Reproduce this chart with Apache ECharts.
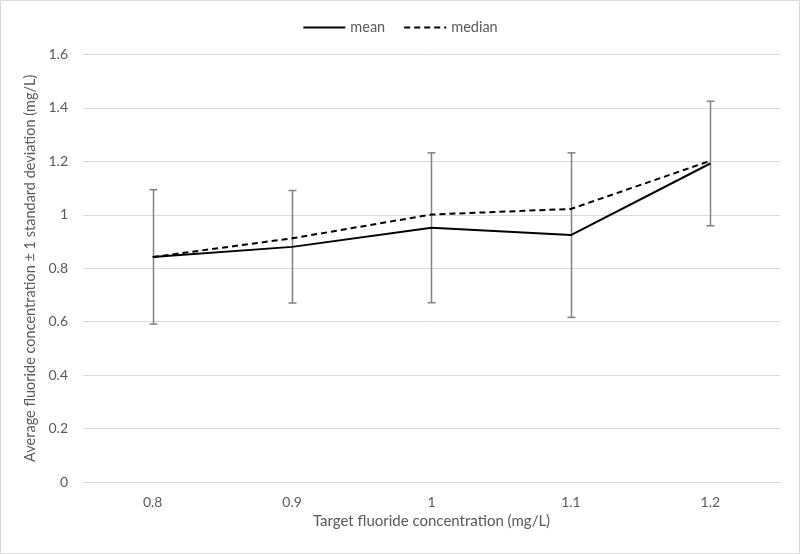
<!DOCTYPE html>
<html><head><meta charset="utf-8">
<script src="https://cdn.jsdelivr.net/npm/echarts@6/dist/echarts.min.js"></script>
<style>html,body{margin:0;padding:0;background:#fff}#c{width:800px;height:554px}</style>
</head><body><div id="c"></div>
<script>
var categories = ['0.8', '0.9', '1', '1.1', '1.2'];
var meanValues = [0.842, 0.880, 0.952, 0.924, 1.192];
var medianValues = [0.842, 0.912, 1.001, 1.022, 1.202];
var sdUpper = [1.094, 1.091, 1.232, 1.232, 1.425];
var sdLower = [0.591, 0.670, 0.671, 0.616, 0.959];
var yTicks = [0, 0.2, 0.4, 0.6, 0.8, 1, 1.2, 1.4, 1.6];

var FONT = 'Lato';
var errData = categories.map(function (c, i) { return [i, sdLower[i], sdUpper[i]]; });

var chart = echarts.init(document.getElementById('c'));
chart.setOption({
  animation: false,
  backgroundColor: '#fff',
  textStyle: { fontFamily: FONT },
  graphic: [{
    type: 'rect', silent: true, z: -1,
    shape: { x: 0.5, y: 0.5, width: 799, height: 553 },
    style: { fill: 'none', stroke: '#d9d9d9', lineWidth: 1 }
  }],
  legend: {
    top: 15, left: 'center',
    itemWidth: 42, itemHeight: 10, itemGap: 18,
    itemStyle: { opacity: 0 },
    textStyle: { color: '#595959', fontSize: 14.5, fontFamily: FONT },
    data: ['mean', 'median']
  },
  grid: { left: 83, right: 20, top: 54.5, bottom: 72, containLabel: false },
  xAxis: {
    type: 'category', data: categories, boundaryGap: true,
    name: 'Target fluoride concentration (mg/L)', nameLocation: 'middle', nameGap: 32,
    nameTextStyle: { color: '#595959', fontSize: 15, fontFamily: FONT, verticalAlign: 'top' },
    axisLine: { lineStyle: { color: '#d9d9d9' } },
    axisTick: { show: false },
    axisLabel: { color: '#595959', fontSize: 14, margin: 13, fontFamily: FONT }
  },
  yAxis: {
    type: 'value', min: 0, max: 1.6, interval: 0.2,
    name: 'Average fluoride concentration \u00b1 1 standard deviation (mg/L)',
    nameLocation: 'middle', nameGap: 43,
    nameTextStyle: { color: '#595959', fontSize: 14.5, fontFamily: FONT },
    axisLine: { show: false }, axisTick: { show: false },
    splitLine: { lineStyle: { color: '#d9d9d9', width: 1 } },
    axisLabel: {
      color: '#595959', fontSize: 14, margin: 15, fontFamily: FONT,
      formatter: function (v) {
        var t = yTicks.find(function (x) { return Math.abs(x - v) < 1e-9; });
        return t === undefined ? '' : String(t);
      }
    }
  },
  series: [
    {
      name: 'mean', type: 'line', data: meanValues, symbol: 'none', z: 3,
      lineStyle: { color: '#000', width: 2, type: 'solid' },
      itemStyle: { color: '#000' }
    },
    {
      name: 'median', type: 'line', data: medianValues, symbol: 'none', z: 3,
      lineStyle: { color: '#000', width: 2, type: [6, 4] },
      itemStyle: { color: '#000' }
    },
    {
      name: 'sd', type: 'custom', data: errData, z: 2,
      encode: { x: 0, y: [1, 2] },
      renderItem: function (params, api) {
        var lo = api.coord([api.value(0), api.value(1)]);
        var hi = api.coord([api.value(0), api.value(2)]);
        var x = Math.round(lo[0]) + 0.5;
        var s = { stroke: '#808080', lineWidth: 1.5 };
        return {
          type: 'group',
          children: [
            { type: 'line', shape: { x1: x, y1: hi[1], x2: x, y2: lo[1] }, style: s },
            { type: 'line', shape: { x1: x - 4, y1: hi[1], x2: x + 4, y2: hi[1] }, style: s },
            { type: 'line', shape: { x1: x - 4, y1: lo[1], x2: x + 4, y2: lo[1] }, style: s }
          ]
        };
      }
    }
  ]
});
</script></body></html>
